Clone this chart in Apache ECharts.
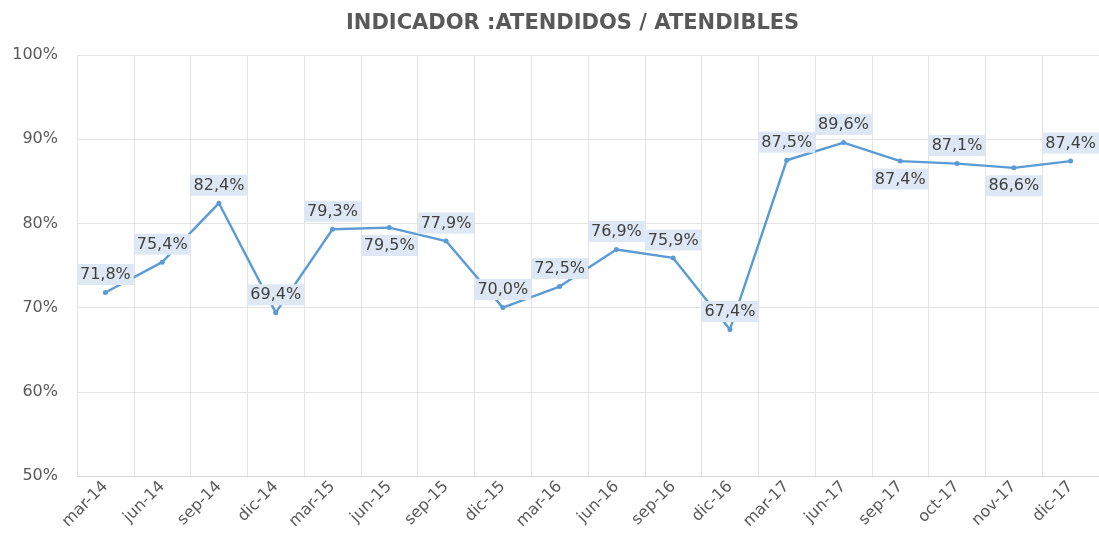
<!DOCTYPE html>
<html>
<head>
<meta charset="utf-8">
<script src="https://cdn.jsdelivr.net/npm/echarts@6/dist/echarts.min.js"></script>
<style>
  html, body { margin: 0; padding: 0; background: #fff; }
</style>
</head>
<body>
<div id="chart" style="width: 1099px; height: 537px;"></div>
<script>
// periodos (trimestres / meses)
const categories = ['mar-14', 'jun-14', 'sep-14', 'dic-14', 'mar-15', 'jun-15', 'sep-15', 'dic-15',
  'mar-16', 'jun-16', 'sep-16', 'dic-16', 'mar-17', 'jun-17', 'sep-17', 'oct-17', 'nov-17', 'dic-17']
// % atendidos / atendibles
const values = [71.8, 75.4, 82.4, 69.4, 79.3, 79.5, 77.9, 70.0, 72.5, 76.9, 75.9, 67.4,
  87.5, 89.6, 87.4, 87.1, 86.6, 87.4]
// posicion de la etiqueta de cada punto
const labelPos = ['top', 'top', 'top', 'top', 'top', 'bottom', 'top', 'top', 'top', 'top', 'top', 'top',
  'top', 'top', 'bottom', 'top', 'bottom', 'top']

const fmt = v => v.toFixed(1).replace('.', ',') + '%'

let myChart = echarts.init(document.getElementById('chart'))
myChart.setOption({
  animation: false,
  title: {
    text: 'INDICADOR :ATENDIDOS / ATENDIBLES',
    left: 341,
    top: 8,
    textStyle: {
      fontFamily: 'DejaVu Sans',
      fontSize: 21,
      fontWeight: 'bold',
      color: '#595959'
    }
  },
  grid: {
    left: 77,
    right: -2,
    top: 55,
    bottom: 61
  },
  xAxis: {
    type: 'category',
    data: categories,
    boundaryGap: true,
    axisLine: { lineStyle: { color: '#D9D9D9' } },
    axisTick: { show: false },
    splitLine: { show: true, lineStyle: { color: '#E3E3E3' } },
    axisLabel: {
      rotate: 45,
      interval: 0,
      margin: 8,
      color: '#595959',
      fontFamily: 'DejaVu Sans',
      fontSize: 16
    }
  },
  yAxis: {
    type: 'value',
    min: 50,
    max: 100,
    interval: 10,
    axisLine: { show: false },
    axisTick: { show: false },
    splitLine: { lineStyle: { color: '#E3E3E3' } },
    axisLabel: {
      margin: 19,
      color: '#595959',
      fontFamily: 'DejaVu Sans',
      fontSize: 16,
      formatter: v => v + '%'
    }
  },
  series: [{
    type: 'line',
    data: values.map((v, i) => ({
      value: v,
      label: { position: labelPos[i] }
    })),
    symbol: 'circle',
    symbolSize: 5,
    lineStyle: { color: '#5B9BD5', width: 2.4 },
    itemStyle: { color: '#5B9BD5' },
    label: {
      show: true,
      distance: 5,
      formatter: p => fmt(p.value),
      color: '#404040',
      fontFamily: 'DejaVu Sans',
      fontSize: 16,
      backgroundColor: '#DEE8F4',
      padding: [3, 3, 2, 3]
    }
  }]
})
window.onresize = myChart.resize
</script>
</body>
</html>
